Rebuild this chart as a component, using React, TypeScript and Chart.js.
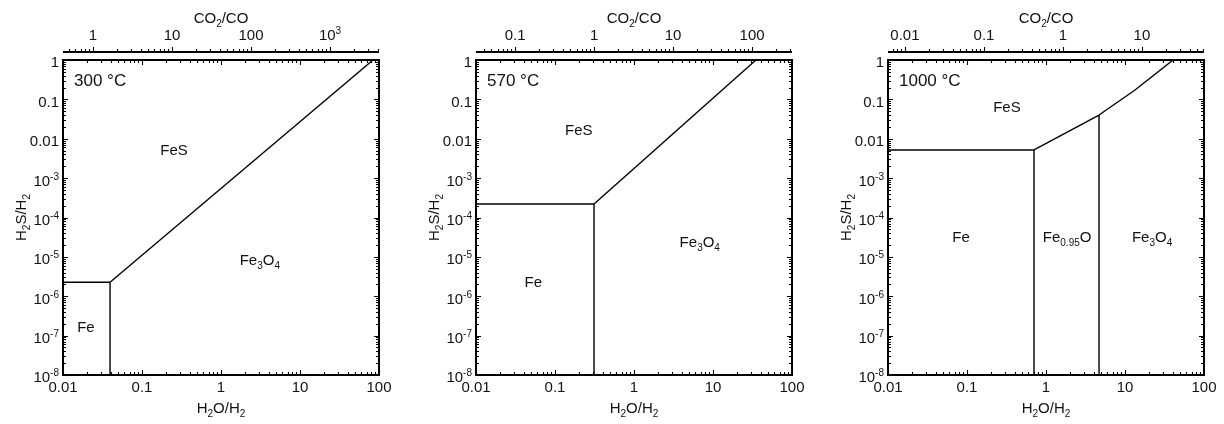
import React, { useEffect, useRef } from 'react';
import { Chart, registerables } from 'chart.js';

Chart.register(...registerables);

const FONT = '"Liberation Sans", Arial, Helvetica, sans-serif';

// ---- shared axes ----
const xMin = 0.01;
const xMax = 100;
const yMin = 1e-8;
const yMax = 1;
const xTickValues = [0.01, 0.1, 1, 10, 100];
const xTickLabels = ['0.01', '0.1', '1', '10', '100'];
const yTickValues = [1, 0.1, 0.01, 1e-3, 1e-4, 1e-5, 1e-6, 1e-7, 1e-8];
const yTickLabels = ['1', '0.1', '0.01', '10^{-3}', '10^{-4}', '10^{-5}', '10^{-6}', '10^{-7}', '10^{-8}'];
const xTitle = 'H_{2}O/H_{2}';
const yTitle = 'H_{2}S/H_{2}';
const topTitle = 'CO_{2}/CO';

// ---- panels ----
const temperatures = ['300 °C', '570 °C', '1000 °C'];
// CO2/CO per unit H2O/H2 (water-gas shift equilibrium) for each temperature
const shiftRatios = [41.7, 3.2, 0.61];

const topTicks300 = [1, 10, 100, 1000];
const topLabels300 = ['1', '10', '100', '10^{3}'];
const topTicks570 = [0.1, 1, 10, 100];
const topLabels570 = ['0.1', '1', '10', '100'];
const topTicks1000 = [0.01, 0.1, 1, 10];
const topLabels1000 = ['0.01', '0.1', '1', '10'];

// boundaries, 300 °C
const b300_FeFeS_x = [0.01, 0.0394];
const b300_FeFeS_y = [2.26e-6, 2.26e-6];
const b300_FeMag_x = [0.0394, 0.0394];
const b300_FeMag_y = [2.26e-6, 1e-8];
const b300_FeSMag_x = [0.0394, 84];
const b300_FeSMag_y = [2.26e-6, 1];

// boundaries, 570 °C
const b570_FeFeS_x = [0.01, 0.312];
const b570_FeFeS_y = [2.2e-4, 2.2e-4];
const b570_FeMag_x = [0.312, 0.312];
const b570_FeMag_y = [2.2e-4, 1e-8];
const b570_FeSMag_x = [0.312, 35];
const b570_FeSMag_y = [2.2e-4, 1];

// boundaries, 1000 °C
const b1000_FeFeS_x = [0.01, 0.705];
const b1000_FeFeS_y = [5.2e-3, 5.2e-3];
const b1000_FeWus_x = [0.705, 0.705];
const b1000_FeWus_y = [5.2e-3, 1e-8];
const b1000_WusFeS_x = [0.705, 4.69];
const b1000_WusFeS_y = [5.2e-3, 0.04];
const b1000_WusMag_x = [4.69, 4.69];
const b1000_WusMag_y = [0.04, 1e-8];
const b1000_FeSMag_x = [4.69, 13.4, 40.6];
const b1000_FeSMag_y = [0.04, 0.173, 1];

// phase-field labels
const phases300 = ['FeS', 'Fe_{3}O_{4}', 'Fe'];
const phases300_x = [0.254, 3.1, 0.0195];
const phases300_y = [5.2e-3, 8.3e-6, 1.7e-7];
const phases570 = ['FeS', 'Fe_{3}O_{4}', 'Fe'];
const phases570_x = [0.2, 6.8, 0.053];
const phases570_y = [0.0167, 2.4e-5, 2.3e-6];
const phases1000 = ['FeS', 'Fe', 'Fe_{0.95}O', 'Fe_{3}O_{4}'];
const phases1000_x = [0.32, 0.084, 1.85, 22];
const phases1000_y = [0.064, 3.2e-5, 3.2e-5, 3.2e-5];

type Line = { x: number[]; y: number[] };
type Panel = {
  temp: string;
  k: number;
  topTicks: number[];
  topLabels: string[];
  lines: Line[];
  phases: string[];
  phasesX: number[];
  phasesY: number[];
  canvasLeft: number;
  padLeft: number;
  padRight: number;
};

const panels: Panel[] = [
  {
    temp: temperatures[0], k: shiftRatios[0], topTicks: topTicks300, topLabels: topLabels300,
    lines: [
      { x: b300_FeFeS_x, y: b300_FeFeS_y },
      { x: b300_FeMag_x, y: b300_FeMag_y },
      { x: b300_FeSMag_x, y: b300_FeSMag_y },
    ],
    phases: phases300, phasesX: phases300_x, phasesY: phases300_y,
    canvasLeft: 0, padLeft: 63, padRight: 29,
  },
  {
    temp: temperatures[1], k: shiftRatios[1], topTicks: topTicks570, topLabels: topLabels570,
    lines: [
      { x: b570_FeFeS_x, y: b570_FeFeS_y },
      { x: b570_FeMag_x, y: b570_FeMag_y },
      { x: b570_FeSMag_x, y: b570_FeSMag_y },
    ],
    phases: phases570, phasesX: phases570_x, phasesY: phases570_y,
    canvasLeft: 408, padLeft: 68, padRight: 24,
  },
  {
    temp: temperatures[2], k: shiftRatios[2], topTicks: topTicks1000, topLabels: topLabels1000,
    lines: [
      { x: b1000_FeFeS_x, y: b1000_FeFeS_y },
      { x: b1000_FeWus_x, y: b1000_FeWus_y },
      { x: b1000_WusFeS_x, y: b1000_WusFeS_y },
      { x: b1000_WusMag_x, y: b1000_WusMag_y },
      { x: b1000_FeSMag_x, y: b1000_FeSMag_y },
    ],
    phases: phases1000, phasesX: phases1000_x, phasesY: phases1000_y,
    canvasLeft: 816, padLeft: 72, padRight: 20,
  },
];

const TEXT = '#111';

function parseRich(s: string) {
  const out: { t: string; m: number }[] = [];
  let buf = '';
  let i = 0;
  while (i < s.length) {
    const c = s[i];
    if ((c === '_' || c === '^') && s[i + 1] === '{') {
      if (buf) { out.push({ t: buf, m: 0 }); buf = ''; }
      const end = s.indexOf('}', i + 2);
      out.push({ t: s.slice(i + 2, end), m: c === '_' ? 1 : 2 });
      i = end + 1;
    } else {
      buf += c;
      i++;
    }
  }
  if (buf) out.push({ t: buf, m: 0 });
  return out;
}

function drawRich(ctx: CanvasRenderingContext2D, s: string, x: number, y: number, size: number, align: string) {
  const parts = parseRich(s);
  const small = Math.round(size * 0.64);
  let w = 0;
  const widths = parts.map((p) => {
    ctx.font = `${p.m ? small : size}px ${FONT}`;
    const m = ctx.measureText(p.t).width;
    w += m;
    return m;
  });
  let cx = align === 'left' ? x : align === 'right' ? x - w : x - w / 2;
  const base = y + size * 0.36;
  ctx.textAlign = 'left';
  ctx.textBaseline = 'alphabetic';
  ctx.fillStyle = TEXT;
  parts.forEach((p, i) => {
    ctx.font = `${p.m ? small : size}px ${FONT}`;
    const dy = p.m === 1 ? size * 0.24 : p.m === 2 ? -size * 0.4 : 0;
    ctx.fillText(p.t, cx, base + dy);
    cx += widths[i];
  });
}

function minorValues(min: number, max: number) {
  const vals: { v: number; major: boolean }[] = [];
  const d0 = Math.floor(Math.log10(min));
  const d1 = Math.ceil(Math.log10(max));
  for (let d = d0; d <= d1; d++) {
    for (let m = 1; m <= 9; m++) {
      const v = m * Math.pow(10, d);
      if (v >= min * 0.9999 && v <= max * 1.0001) vals.push({ v, major: m === 1 });
    }
  }
  return vals;
}

function makeAxesPlugin(panel: Panel) {
  return {
    id: 'phaseAxes',
    afterDraw(chart: any) {
      const ctx: CanvasRenderingContext2D = chart.ctx;
      const { left, right, top, bottom } = chart.chartArea;
      const xs = chart.scales.x;
      const ys = chart.scales.y;
      const x2 = chart.scales.x2;
      ctx.save();
      ctx.strokeStyle = '#000';
      // frame
      ctx.lineWidth = 2;
      ctx.strokeRect(left, top, right - left, bottom - top);
      // inward ticks on all four sides
      ctx.lineWidth = 1.1;
      ctx.beginPath();
      minorValues(xMin, xMax).forEach(({ v, major }) => {
        const px = Math.round(xs.getPixelForValue(v)) + 0.5;
        const len = major ? 5 : 3;
        ctx.moveTo(px, bottom); ctx.lineTo(px, bottom - len);
        ctx.moveTo(px, top); ctx.lineTo(px, top + len);
      });
      minorValues(yMin, yMax).forEach(({ v, major }) => {
        const py = Math.round(ys.getPixelForValue(v)) + 0.5;
        const len = major ? 5 : 3;
        ctx.moveTo(left, py); ctx.lineTo(left + len, py);
        ctx.moveTo(right, py); ctx.lineTo(right - len, py);
      });
      ctx.stroke();
      // top CO2/CO axis
      const axY = top - 8;
      ctx.lineWidth = 2;
      ctx.beginPath();
      ctx.moveTo(left, axY); ctx.lineTo(right, axY);
      ctx.stroke();
      ctx.lineWidth = 1.1;
      ctx.beginPath();
      minorValues(x2.min, x2.max).forEach(({ v, major }) => {
        const px = Math.round(x2.getPixelForValue(v)) + 0.5;
        const len = major ? 5 : 3;
        ctx.moveTo(px, axY); ctx.lineTo(px, axY - len);
      });
      ctx.stroke();

      // tick labels
      xTickValues.forEach((v, i) => drawRich(ctx, xTickLabels[i], xs.getPixelForValue(v), bottom + 12, 15, 'center'));
      yTickValues.forEach((v, i) => drawRich(ctx, yTickLabels[i], left - 4, ys.getPixelForValue(v) + 2, 15, 'right'));
      panel.topTicks.forEach((v, i) => drawRich(ctx, panel.topLabels[i], x2.getPixelForValue(v), axY - 17, 15, 'center'));

      // titles
      drawRich(ctx, xTitle, (left + right) / 2, bottom + 33, 15, 'center');
      drawRich(ctx, topTitle, (left + right) / 2, top - 42, 15, 'center');
      ctx.save();
      ctx.translate(left - 42, (top + bottom) / 2);
      ctx.rotate(-Math.PI / 2);
      drawRich(ctx, yTitle, 0, 0, 15, 'center');
      ctx.restore();

      // temperature
      drawRich(ctx, panel.temp, left + 11, top + 20, 17, 'left');
      // phase fields
      panel.phases.forEach((s, i) => {
        drawRich(ctx, s, xs.getPixelForValue(panel.phasesX[i]), ys.getPixelForValue(panel.phasesY[i]), 15, 'center');
      });
      ctx.restore();
    },
  };
}

function PanelChart({ panel }: { panel: Panel }) {
  const ref = useRef<HTMLCanvasElement>(null);
  useEffect(() => {
    if (!ref.current) return;
    const chart = new Chart(ref.current, {
      type: 'scatter',
      data: {
        datasets: panel.lines.map((l) => ({
          data: l.x.map((x, i) => ({ x, y: l.y[i] })),
          showLine: true,
          borderColor: '#000',
          borderWidth: 1.4,
          pointRadius: 0,
          fill: false,
          tension: 0,
        })),
      },
      options: {
        animation: false,
        responsive: false,
        maintainAspectRatio: false,
        events: [],
        layout: { padding: { left: panel.padLeft, right: panel.padRight, top: 60, bottom: 49 } },
        plugins: { legend: { display: false }, tooltip: { enabled: false } },
        scales: {
          x: { type: 'logarithmic', min: xMin, max: xMax, display: false },
          y: { type: 'logarithmic', min: yMin, max: yMax, display: false },
          x2: { type: 'logarithmic', position: 'top', min: xMin * panel.k, max: xMax * panel.k, display: false },
        },
      } as any,
      plugins: [makeAxesPlugin(panel)],
    });
    return () => chart.destroy();
  }, [panel]);
  return (
    <canvas
      ref={ref}
      width={408}
      height={424}
      style={{ position: 'absolute', left: panel.canvasLeft, top: 0, width: 408, height: 424, display: 'block' }}
    />
  );
}

export default function App() {
  return (
    <div style={{ position: 'fixed', left: 0, top: 0, width: 1224, height: 424, background: '#fff', overflow: 'hidden' }}>
      {panels.map((p, i) => (
        <PanelChart key={i} panel={p} />
      ))}
    </div>
  );
}
